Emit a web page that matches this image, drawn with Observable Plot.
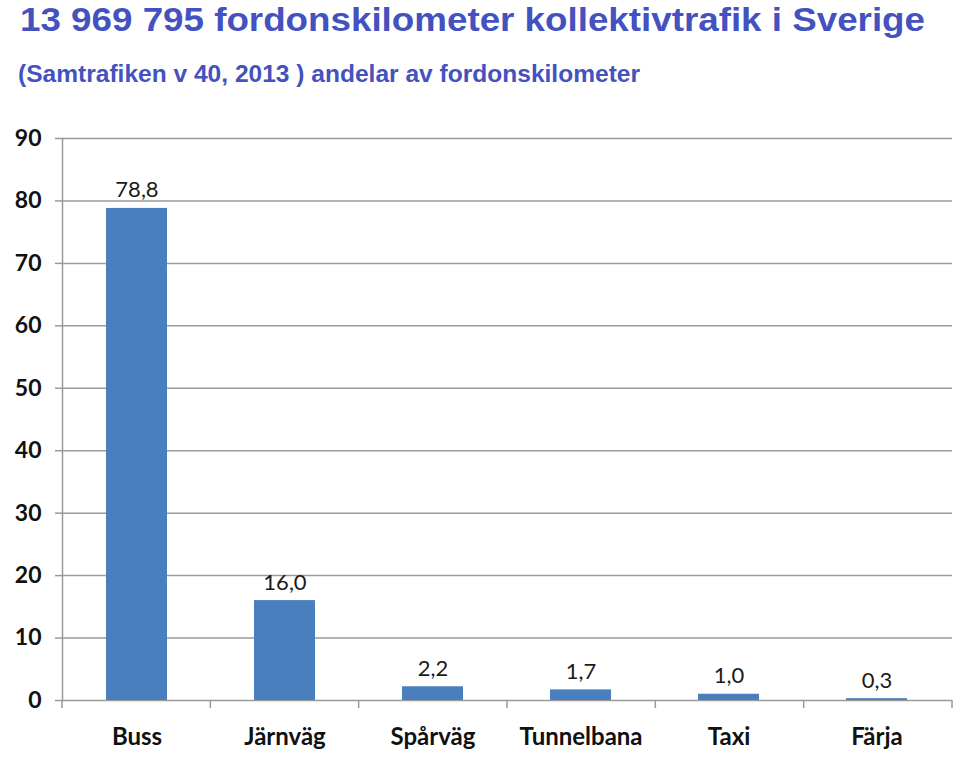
<!DOCTYPE html>
<html>
<head>
<meta charset="utf-8">
<script src="https://cdn.jsdelivr.net/npm/d3@7"></script>
<script src="https://cdn.jsdelivr.net/npm/@observablehq/plot@0.6"></script>
<style>
  html, body { margin: 0; padding: 0; background: #fff; }
  body { width: 960px; height: 760px; position: relative; overflow: hidden; }
  #header { position: absolute; left: 0; top: 0; }
  #chart { position: absolute; left: 0; top: 100px; }
</style>
</head>
<body>
<svg id="header" width="960" height="100" xmlns="http://www.w3.org/2000/svg"
     font-family="'Liberation Sans', Arial, sans-serif" font-weight="bold" fill="#4352bf">
  <text x="20" y="31" font-size="34" textLength="905" lengthAdjust="spacingAndGlyphs">13 969 795 fordonskilometer kollektivtrafik i Sverige</text>
  <text x="18" y="82" font-size="24" textLength="622" lengthAdjust="spacingAndGlyphs">(Samtrafiken v 40, 2013 ) andelar av fordonskilometer</text>
</svg>
<div id="chart"></div>
<script>
const categories = ["Buss", "Järnväg", "Spårväg", "Tunnelbana", "Taxi", "Färja"];
const values = [78.8, 16.0, 2.2, 1.7, 1.0, 0.3];
const yTicks = [0, 10, 20, 30, 40, 50, 60, 70, 80, 90];

const data = categories.map((c, i) => ({category: c, value: values[i]}));
const fmt = v => v.toFixed(1).replace(".", ",");

const W = 960, H = 660, ML = 62, MR = 8, MT = 38, MB = 60;
const gridColor = "#9a9a9a";

function boundaryTicks(index, scales, values, dimensions) {
  const dims = [...arguments].find(a => a && typeof a === "object" && "marginLeft" in a) || {marginLeft: ML, marginRight: MR, width: W, height: H, marginBottom: MB};
  const x0 = dims.marginLeft, x1 = dims.width - dims.marginRight;
  const n = categories.length;
  const y0 = dims.height - dims.marginBottom;
  const g = d3.create("svg:g").attr("stroke", gridColor).attr("stroke-width", 1.5);
  for (let i = 0; i <= n; i++) {
    const x = x0 + (x1 - x0) * i / n;
    g.append("line").attr("x1", x).attr("x2", x).attr("y1", y0).attr("y2", y0 + 8);
  }
  return g.node();
}

const chart = Plot.plot({
  width: W,
  height: H,
  marginLeft: ML,
  marginRight: MR,
  marginTop: MT,
  marginBottom: MB,
  style: {fontFamily: "Lato, 'Open Sans', sans-serif", background: "transparent", color: "#111"},
  x: {domain: categories, paddingInner: 0.6, paddingOuter: 0.3, label: null},
  y: {domain: [0, 90], label: null},
  marks: [
    Plot.gridY(yTicks, {stroke: gridColor, strokeOpacity: 1, strokeWidth: 1.5}),
    Plot.frame({anchor: "left", stroke: gridColor, strokeWidth: 1.5}),
    Plot.axisY({ticks: yTicks, tickSize: 7, tickPadding: 14, fontSize: 23, fontWeight: "bold", stroke: gridColor, strokeWidth: 1.5, label: null, fill: "#111"}),
    Plot.axisX({tickSize: 0, tickPadding: 27, fontSize: 24, fontWeight: "bold", label: null, fill: "#111"}),
    boundaryTicks,
    Plot.barY(data, {x: "category", y: "value", fill: "#4a7fbf", insetLeft: -1, insetRight: -1}),
    Plot.text(data, {x: "category", y: "value", text: d => fmt(d.value), lineAnchor: "bottom", dy: -11, fontSize: 22, fill: "#1a1a1a"})
  ]
});
document.getElementById("chart").appendChild(chart);
</script>
</body>
</html>
